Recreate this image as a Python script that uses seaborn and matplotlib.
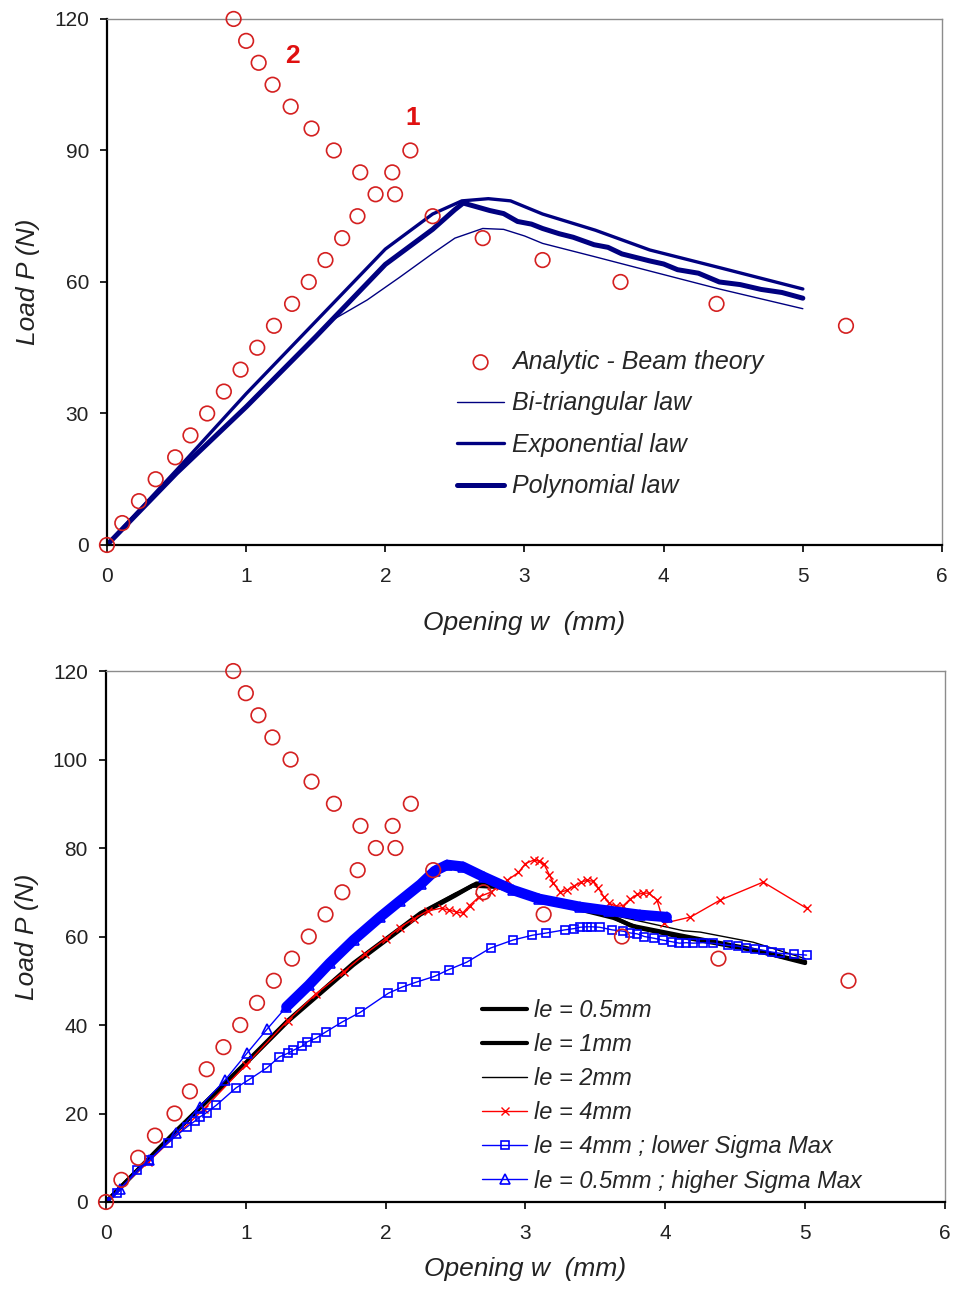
import matplotlib
matplotlib.use("Agg")
import matplotlib.pyplot as plt
import seaborn as sns
import numpy as np

# analytic beam theory points (same in both panels)
ana_w = [0, 0.11, 0.23, 0.35, 0.49, 0.60, 0.72, 0.84, 0.96, 1.08, 1.20, 1.33, 1.45, 1.57, 1.69, 1.80,
         2.07, 2.05, 2.18,
         0.91, 1.00, 1.09, 1.19, 1.32, 1.47, 1.63, 1.82, 1.93, 2.34, 2.70, 3.13, 3.69, 4.38, 5.31]
ana_P = [0, 5, 10, 15, 20, 25, 30, 35, 40, 45, 50, 55, 60, 65, 70, 75,
         80, 85, 90,
         120, 115, 110, 105, 100, 95, 90, 85, 80, 75, 70, 65, 60, 55, 50]

# top panel: cohesive laws
bitri_w = [0, 0.5, 1.0, 1.3, 1.62, 1.87, 2.1, 2.34, 2.5, 2.7, 2.85, 3.0, 3.13, 3.5, 3.9, 4.4, 5.0]
bitri_P = [0, 16.5, 31.8, 41.5, 51.3, 55.9, 61.0, 66.5, 70.0, 72.2, 72.0, 70.5, 68.8, 65.8, 62.5, 58.4, 53.9]

expo_w = [0, 0.5, 1.0, 1.5, 2.0, 2.34, 2.55, 2.74, 2.9, 3.13, 3.51, 3.9, 4.41, 5.0]
expo_P = [0, 17.1, 34.5, 51.0, 67.5, 75.5, 78.5, 79.0, 78.5, 75.5, 71.8, 67.3, 63.2, 58.4]

poly_w = [0, 0.5, 1.0, 1.5, 2.0, 2.34, 2.5, 2.56, 2.65, 2.75, 2.85, 2.95, 3.05, 3.13, 3.25, 3.35,
          3.5, 3.6, 3.7, 3.9, 4.0, 4.1, 4.25, 4.4, 4.55, 4.7, 4.85, 5.0]
poly_P = [0, 16.4, 31.5, 47.5, 64.0, 72.0, 76.5, 78.0, 77.2, 76.3, 75.6, 73.8, 73.2, 72.2, 71.0, 70.2,
          68.5, 67.9, 66.4, 64.8, 64.1, 62.8, 62.0, 60.0, 59.4, 58.3, 57.6, 56.3]

# bottom panel: element length le
le05_w = [0, 0.5, 1.0, 1.3, 1.77, 2.25, 2.5, 2.65, 2.8, 3.0, 3.3, 3.63, 3.75, 4.1, 4.58, 5.0]
le05_P = [0, 16.0, 31.5, 41.0, 54.0, 65.3, 69.5, 72.0, 71.5, 69.5, 67.0, 64.4, 62.5, 60.3, 57.4, 54.0]

le1_w = [0, 0.5, 1.0, 1.3, 1.77, 2.25, 2.5, 2.62, 2.8, 3.0, 3.3, 3.63, 3.8, 4.1, 4.58, 5.0]
le1_P = [0, 16.0, 31.3, 40.8, 53.6, 65.0, 69.3, 71.5, 71.2, 69.4, 66.8, 64.2, 62.0, 60.0, 57.2, 54.3]

le2_w = [0, 0.5, 1.0, 1.3, 1.77, 2.25, 2.5, 2.7, 2.9, 3.2, 3.6, 4.13, 4.25, 4.63, 5.0]
le2_P = [0, 16.2, 31.6, 41.2, 54.2, 65.5, 69.8, 72.0, 71.3, 68.5, 65.0, 61.3, 61.0, 58.7, 55.0]

le4_w = [0, 0.3, 0.7, 1.0, 1.3, 1.5, 1.7, 1.85, 2.0, 2.1, 2.2, 2.3, 2.4, 2.45, 2.5, 2.55, 2.6, 2.67,
         2.75, 2.82, 2.87, 2.95, 3.0, 3.06, 3.1, 3.13, 3.17, 3.2, 3.25, 3.3, 3.35, 3.4, 3.44, 3.48,
         3.52, 3.56, 3.6, 3.65, 3.7, 3.75, 3.8, 3.84, 3.88, 3.94, 3.99, 4.18, 4.39, 4.70, 5.01]
le4_P = [0, 9.0, 21.0, 31.0, 41.0, 47.0, 52.0, 56.0, 59.5, 62.0, 64.0, 65.8, 66.4, 66.0, 65.6, 65.3,
         67.0, 69.0, 70.0, 71.5, 72.7, 74.5, 76.5, 77.3, 77.0, 76.5, 74.0, 72.0, 70.0, 70.5, 71.5,
         72.3, 72.7, 72.5, 71.0, 69.0, 67.5, 66.8, 67.0, 68.5, 69.5, 69.8, 69.8, 68.3, 63.0, 64.4,
         68.2, 72.3, 66.4]

sq_w = [0, 0.08, 0.22, 0.31, 0.44, 0.58, 0.64, 0.67, 0.72, 0.79, 0.93, 1.02, 1.15, 1.24, 1.30, 1.34,
        1.40, 1.44, 1.50, 1.57, 1.69, 1.82, 2.02, 2.12, 2.22, 2.35, 2.45, 2.58, 2.75, 2.91, 3.05,
        3.15, 3.28, 3.35, 3.39, 3.44, 3.47, 3.53, 3.62, 3.70, 3.75, 3.80, 3.85, 3.92, 3.98, 4.05,
        4.10, 4.15, 4.20, 4.27, 4.34, 4.45, 4.52, 4.58, 4.64, 4.70, 4.76, 4.82, 4.92, 5.01]
sq_P = [0, 2.0, 7.2, 9.5, 13.3, 17.0, 18.4, 19.2, 20.2, 21.9, 25.8, 27.6, 30.3, 32.8, 33.6, 34.3,
        35.2, 36.2, 37.0, 38.4, 40.7, 42.9, 47.2, 48.6, 49.7, 51.0, 52.5, 54.2, 57.4, 59.2, 60.3,
        60.8, 61.5, 61.8, 62.1, 62.2, 62.2, 62.1, 61.5, 61.2, 60.8, 60.6, 60.0, 59.6, 59.2, 58.8,
        58.5, 58.6, 58.5, 58.6, 58.5, 58.0, 57.8, 57.4, 57.2, 56.9, 56.5, 56.2, 56.0, 55.8]

tri_w = [0, 0.1, 0.31, 0.5, 0.67, 0.85, 1.01, 1.15, 1.29, 1.45, 1.6, 1.77, 1.96, 2.1, 2.25, 2.35,
         2.44, 2.55, 2.7, 2.91, 3.1, 3.39, 3.6, 3.82, 4.01]
tri_P = [0, 3.0, 9.5, 15.5, 21.5, 27.5, 33.7, 39.0, 44.1, 49.0, 54.0, 59.2, 64.4, 68.0, 71.8, 74.8,
         76.2, 75.8, 73.5, 70.5, 68.5, 66.7, 65.8, 64.9, 64.4]

NAVY = "#000080"
RED = "#ff0000"
BLUE = "#0000ff"
CIRC = "#d42020"

sns.set_style("white")
plt.rcParams["font.family"] = ["Liberation Sans", "DejaVu Sans"]

fig = plt.figure(figsize=(9.55, 12.89), dpi=100)
ax1 = fig.add_axes([0.112, 0.5772, 0.8744, 0.4081])
ax2 = fig.add_axes([0.111, 0.0675, 0.8785, 0.4119])


def style_axes(ax, yticks, xpad):
    ax.set_xlim(0, 6)
    ax.set_ylim(0, 120)
    ax.set_xticks(range(7))
    ax.set_yticks(yticks)
    for s in ["top", "right"]:
        ax.spines[s].set_color("#8c8c8c")
        ax.spines[s].set_linewidth(1.0)
    for s in ["left", "bottom"]:
        ax.spines[s].set_color("black")
        ax.spines[s].set_linewidth(1.6)
    ax.tick_params(direction="out", length=5, width=1.2, labelsize=15, color="black",
                   left=True, bottom=True, labelcolor="#222222")
    ax.tick_params(axis="x", pad=11)
    ax.tick_params(axis="y", pad=8)
    ax.set_xlabel("Opening w  (mm)", fontsize=19, style="italic", labelpad=xpad, color="#222222")
    ax.set_ylabel("Load P (N)", fontsize=19, style="italic", labelpad=10, color="#222222")


def analytic(ax):
    sns.scatterplot(x=ana_w, y=ana_P, ax=ax, marker="o", s=110, facecolor="none",
                    edgecolor=CIRC, linewidth=1.2, clip_on=False, zorder=5,
                    label="Analytic - Beam theory")


# ---- top panel
analytic(ax1)
sns.lineplot(x=bitri_w, y=bitri_P, ax=ax1, sort=False, color=NAVY, lw=1.0, label="Bi-triangular law")
sns.lineplot(x=expo_w, y=expo_P, ax=ax1, sort=False, color=NAVY, lw=2.4, label="Exponential law")
sns.lineplot(x=poly_w, y=poly_P, ax=ax1, sort=False, color=NAVY, lw=3.6, label="Polynomial law")
style_axes(ax1, [0, 30, 60, 90, 120], 18)
ax1.text(2.2, 97.5, "1", color="#e01010", fontsize=19, fontweight="bold", ha="center", va="center")
ax1.text(1.33, 111.5, "2", color="#e01010", fontsize=19, fontweight="bold", ha="center", va="center")
ax1.legend(loc="upper left", bbox_to_anchor=(0.407, 0.39), frameon=False,
           prop={"size": 18, "style": "italic"}, handlelength=1.9, handletextpad=0.3,
           labelspacing=0.7, borderaxespad=0)

# ---- bottom panel
analytic(ax2)
sns.lineplot(x=le05_w, y=le05_P, ax=ax2, sort=False, color="black", lw=3.0, label="le = 0.5mm")
sns.lineplot(x=le1_w, y=le1_P, ax=ax2, sort=False, color="black", lw=3.0, label="le = 1mm")
sns.lineplot(x=le2_w, y=le2_P, ax=ax2, sort=False, color="black", lw=1.0, label="le = 2mm")
sns.lineplot(x=le4_w, y=le4_P, ax=ax2, sort=False, color=RED, lw=1.0, marker="x", markersize=6,
             markeredgewidth=1.0, markeredgecolor=RED, label="le = 4mm")
sns.lineplot(x=sq_w, y=sq_P, ax=ax2, sort=False, color=BLUE, lw=1.0, marker="s", markersize=6,
             markerfacecolor="none", markeredgecolor=BLUE, markeredgewidth=1.2,
             label="le = 4mm ; lower Sigma Max")
sns.lineplot(x=tri_w[8:], y=tri_P[8:], ax=ax2, sort=False, color=BLUE, lw=7.5, legend=False)
sns.lineplot(x=tri_w, y=tri_P, ax=ax2, sort=False, color=BLUE, lw=1.0, marker="^", markersize=7,
             markerfacecolor="none", markeredgecolor=BLUE, markeredgewidth=1.2,
             label="le = 0.5mm ; higher Sigma Max")
style_axes(ax2, [0, 20, 40, 60, 80, 100, 120], 10)
h, l = ax2.get_legend_handles_labels()
ax2.legend(h[1:], l[1:], loc="upper left", bbox_to_anchor=(0.437, 0.40), frameon=False,
           prop={"size": 17, "style": "italic"}, handlelength=1.9, handletextpad=0.3,
           labelspacing=0.47, borderaxespad=0)

fig.savefig("out.png", dpi=100)
